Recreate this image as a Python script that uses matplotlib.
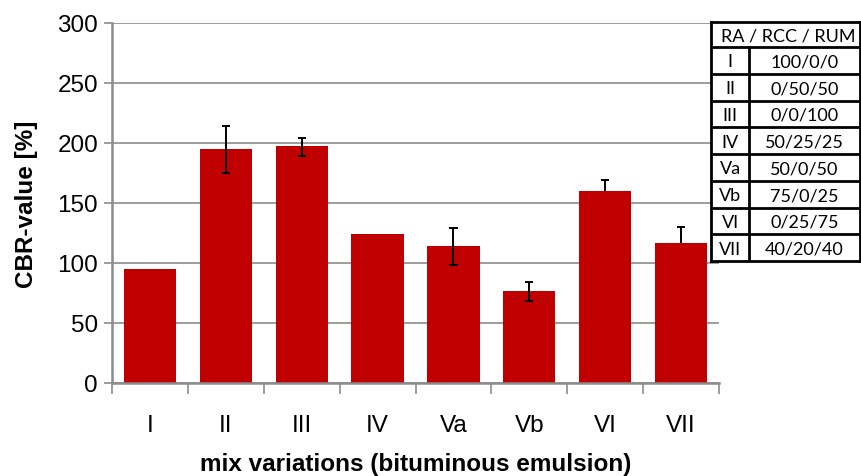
import matplotlib
matplotlib.use("Agg")
import matplotlib.pyplot as plt
import numpy as np

categories = ["I", "II", "III", "IV", "Va", "Vb", "VI", "VII"]
cbr_values = [95, 195, 197.5, 124, 114, 76.7, 160, 116.7]
err_minus = [0, 20, 8, 0, 15.5, 8, 0, 0]
err_plus = [0, 19.5, 7, 0, 15.5, 7.7, 9, 13]

table_header = "RA / RCC / RUM"
table_mix = ["I", "II", "III", "IV", "Va", "Vb", "VI", "VII"]
table_ratio = ["100/0/0", "0/50/50", "0/0/100", "50/25/25", "50/0/50", "75/0/25", "0/25/75", "40/20/40"]

plt.rcParams['font.family'] = ['Liberation Sans', 'DejaVu Sans']

W, H = 861, 477
fig = plt.figure(figsize=(W / 100, H / 100), dpi=100)
ax = fig.add_axes([112 / W, 1 - 384 / H, (719 - 112) / W, (384 - 24) / H])

x = np.arange(len(categories))
ax.bar(x, cbr_values, width=0.69, color="#C00000", zorder=2)

# error bars (only where present; lower part only where present)
cap = 0.055
for xi, v, lo, hi in zip(x, cbr_values, err_minus, err_plus):
    if lo == 0 and hi == 0:
        continue
    ax.vlines(xi, v - lo, v + hi, color="black", lw=1.4, zorder=3)
    if hi > 0:
        ax.hlines(v + hi, xi - cap, xi + cap, color="black", lw=1.4, zorder=3)
    if lo > 0:
        ax.hlines(v - lo, xi - cap, xi + cap, color="black", lw=1.4, zorder=3)

ax.set_xlim(-0.5, len(categories) - 0.5)
ax.set_ylim(0, 300)
ax.set_yticks(np.arange(0, 301, 50))
ax.yaxis.grid(True, color="#8c8c8c", linewidth=1.2, zorder=0)
ax.set_axisbelow(True)
for s in ["top", "right"]:
    ax.spines[s].set_visible(False)
for s in ["left", "bottom"]:
    ax.spines[s].set_color("#8c8c8c")
    ax.spines[s].set_linewidth(1.8)

ax.set_xticks(np.arange(-0.5, len(categories), 1))
ax.set_xticklabels([])
ax.set_xticks(x, minor=True)
ax.set_xticklabels(categories, minor=True, fontsize=17.5)
ax.tick_params(axis="x", which="major", length=8, color="#8c8c8c", width=1.2, direction="out")
ax.tick_params(axis="x", which="minor", length=0, pad=22)
ax.tick_params(axis="y", length=6, color="#8c8c8c", width=1.2, labelsize=17.5, pad=4)

ax.set_ylabel("CBR-value [%]", fontsize=17.5, fontweight="bold", labelpad=14)
ax.set_xlabel("mix variations (bituminous emulsion)", fontsize=17.5, fontweight="bold", labelpad=12)

# Table
tl, tr, tt, tb = 711, 860, 23, 262
tax = fig.add_axes([tl / W, 1 - tb / H, (tr - tl) / W, (tb - tt) / H], zorder=5)
tax.set_xlim(0, tr - tl)
tax.set_ylim(tb - tt, 0)
tax.set_facecolor("white")
tax.set_xticks([])
tax.set_yticks([])
for s in tax.spines.values():
    s.set_linewidth(2)
    s.set_color("black")
header_h = 25
row_h = (tb - tt - header_h) / len(table_mix)
col_x = 749 - tl
tfont = ['Lato', 'DejaVu Sans']
tsize = 13
tax.text((tr - tl) / 2 + 3, header_h / 2 + 1, table_header, ha="center", va="center", fontsize=tsize, family=tfont)
tax.axhline(header_h, color="black", lw=2)
tax.plot([col_x, col_x], [header_h, tb - tt], color="black", lw=2)
for i, (m, r) in enumerate(zip(table_mix, table_ratio)):
    y0 = header_h + i * row_h
    if i > 0:
        tax.axhline(y0, color="black", lw=2)
    tax.text(col_x / 2, y0 + row_h / 2 + 1, m, ha="center", va="center", fontsize=tsize, family=tfont)
    tax.text((col_x + tr - tl) / 2, y0 + row_h / 2 + 1, r, ha="center", va="center", fontsize=tsize, family=tfont)

fig.savefig("out.png", dpi=100)
